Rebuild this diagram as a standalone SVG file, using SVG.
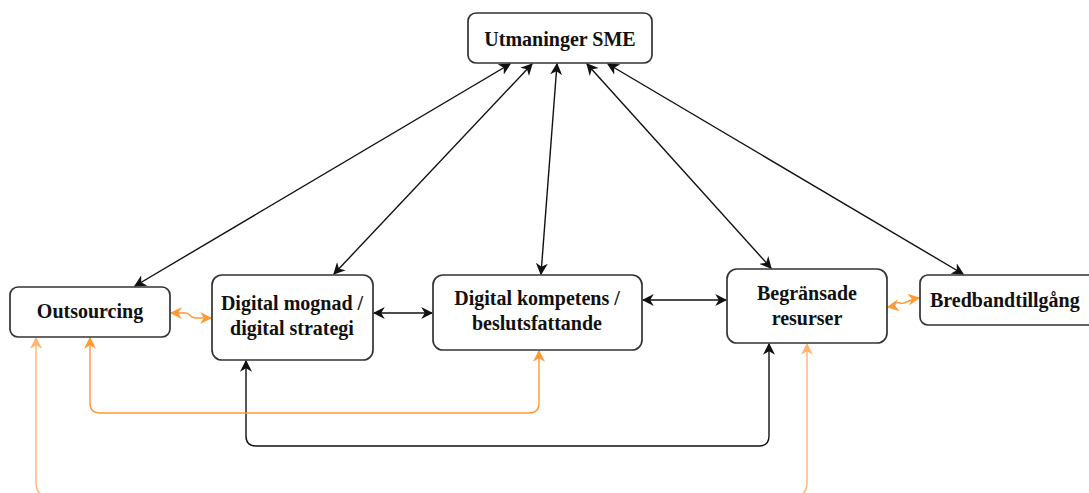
<svg xmlns="http://www.w3.org/2000/svg" width="1089" height="493" viewBox="0 0 1089 493">
  <style>
    .box { fill: #ffffff; stroke: #333333; stroke-width: 1.7; }
    .lbl { font-family: "Liberation Serif", "Times New Roman", serif; font-weight: bold; font-size: 20px; fill: #111111; text-anchor: middle; }
    .blk { fill: none; stroke: #111111; stroke-width: 1.4; marker-start: url(#ah); marker-end: url(#ah); }
    .org { fill: none; stroke: #FF9933; stroke-width: 1.4; marker-start: url(#ao); marker-end: url(#ao); }
    .orgl { fill: none; stroke: #FFB570; stroke-width: 1.4; marker-start: url(#aol); marker-end: url(#aol); }
  </style>
  <defs>
    <marker id="ah" viewBox="0 0 10 10" refX="9" refY="5" markerWidth="12" markerHeight="12" markerUnits="userSpaceOnUse" orient="auto-start-reverse">
      <path d="M0,0 L10,5 L0,10 L3,5 z" fill="#111111"/>
    </marker>
    <marker id="ao" viewBox="0 0 10 10" refX="9" refY="5" markerWidth="12" markerHeight="12" markerUnits="userSpaceOnUse" orient="auto-start-reverse">
      <path d="M0,0 L10,5 L0,10 L3,5 z" fill="#FF9933"/>
    </marker>
    <marker id="aol" viewBox="0 0 10 10" refX="9" refY="5" markerWidth="12" markerHeight="12" markerUnits="userSpaceOnUse" orient="auto-start-reverse">
      <path d="M0,0 L10,5 L0,10 L3,5 z" fill="#FFB570"/>
    </marker>
  </defs>

  <g id="connectors">
    <!-- from the central challenge node down to each factor -->
    <path class="blk" d="M510,64 L135,286"/>
    <path class="blk" d="M532,64 L334,274"/>
    <path class="blk" d="M557,64 L541,274"/>
    <path class="blk" d="M587,64 L771,268"/>
    <path class="blk" d="M608,64 L963,274"/>
    <!-- horizontal links between factors -->
    <path class="blk" d="M374,313 H432"/>
    <path class="blk" d="M643,300 H726"/>
    <!-- squiggly orange links -->
    <path class="org" d="M171,313 H186 C190,313 190,318 195,318 H211"/>
    <path class="org" d="M888,307 C894,306 895,301 900,303 C905,305 906,300 919,298"/>
    <!-- routed links below the row -->
    <path class="blk" d="M246,361 V436 Q246,446 256,446 H759 Q769,446 769,436 V344"/>
    <path class="org" d="M90,338 V403 Q90,413 100,413 H529 Q539,413 539,403 V351"/>
    <path class="orgl" d="M36,338 V483 Q36,496 49,496 H794 Q807,496 807,483 V344"/>
  </g>

  <g id="utmaningar">
    <rect class="box" x="468" y="13" width="184" height="50" rx="8"/>
    <text class="lbl" x="560" y="46">Utmaninger SME</text>
  </g>

  <g id="outsourcing">
    <rect class="box" x="10" y="287" width="160" height="50" rx="8"/>
    <text class="lbl" x="90" y="318">Outsourcing</text>
  </g>

  <g id="mognad">
    <rect class="box" x="212" y="275" width="161" height="85" rx="10"/>
    <text class="lbl" x="292" y="310">Digital mognad /</text>
    <text class="lbl" x="292" y="335">digital strategi</text>
  </g>

  <g id="kompetens">
    <rect class="box" x="433" y="275" width="209" height="75" rx="10"/>
    <text class="lbl" x="537" y="305">Digital kompetens /</text>
    <text class="lbl" x="537" y="330">beslutsfattande</text>
  </g>

  <g id="resurser">
    <rect class="box" x="727" y="269" width="160" height="74" rx="10"/>
    <text class="lbl" x="807" y="300">Begränsade</text>
    <text class="lbl" x="807" y="325">resurser</text>
  </g>

  <g id="bredband">
    <rect class="box" x="920" y="275" width="178" height="50" rx="8"/>
    <text class="lbl" x="930" y="307" style="text-anchor:start">Bredbandtillgång</text>
  </g>
</svg>
